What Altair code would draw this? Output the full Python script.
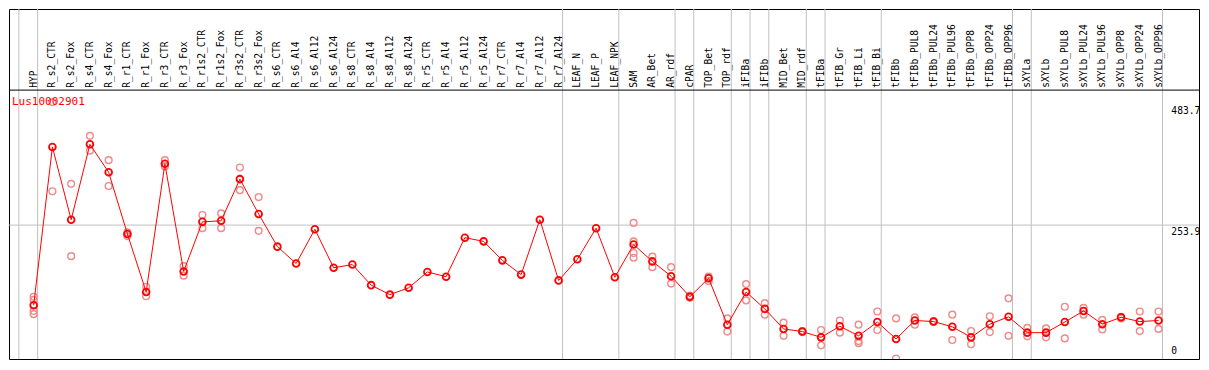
import altair as alt
import pandas as pd

# ---------------- data ----------------
gene = "Lus10002901"

categories = [
    "HYP", "R_s2_CTR", "R_s2_Fox", "R_s4_CTR", "R_s4_Fox", "R_r1_CTR", "R_r1_Fox",
    "R_r3_CTR", "R_r3_Fox", "R_r1s2_CTR", "R_r1s2_Fox", "R_r3s2_CTR", "R_r3s2_Fox",
    "R_s6_CTR", "R_s6_Al4", "R_s6_Al12", "R_s6_Al24", "R_s8_CTR", "R_s8_Al4",
    "R_s8_Al12", "R_s8_Al24", "R_r5_CTR", "R_r5_Al4", "R_r5_Al12", "R_r5_Al24",
    "R_r7_CTR", "R_r7_Al4", "R_r7_Al12", "R_r7_Al24", "LEAF_N", "LEAF_P", "LEAF_NPK",
    "SAM", "AR_Bet", "AR_rdf", "cPAR", "TOP_Bet", "TOP_rdf", "iFIBa", "iFIBb",
    "MID_Bet", "MID_rdf", "tFIBa", "tFIB_Gr", "tFIB_Li", "tFIB_Bi", "tFIBb",
    "tFIBb_PUL8", "tFIBb_PUL24", "tFIBb_PUL96", "tFIBb_OPP8", "tFIBb_OPP24",
    "tFIBb_OPP96", "sXYLa", "sXYLb", "sXYLb_PUL8", "sXYLb_PUL24", "sXYLb_PUL96",
    "sXYLb_OPP8", "sXYLb_OPP24", "sXYLb_OPP96",
]

mean_values = [
    102, 402, 264, 407, 354, 237, 127, 370, 166, 260, 262, 341, 275,
    213, 181, 246, 173, 179, 140, 122, 135, 165, 156, 230, 223,
    187, 160, 264, 149, 189, 248, 155,
    217, 185, 157, 118, 153, 65, 127, 95, 57, 52, 41, 62, 44, 70, 38,
    73, 71, 61, 41, 66, 80, 50, 50, 70, 91, 66, 79, 71, 73,
]

replicates = [
    [118, 112, 91, 85], [487, 318], [332, 195], [423, 395], [377, 328],
    [240, 233], [137, 119], [377, 365], [176, 158], [273, 248], [276, 248],
    [363, 320], [307, 243],
    [], [], [], [], [], [], [], [], [], [], [], [], [], [], [], [], [], [], [],
    [258, 223, 201, 192], [194, 174], [174, 143], [120, 116], [156, 148],
    [77, 52], [142, 111], [106, 84], [69, 44], [53, 51], [55, 26], [73, 50],
    [65, 34, 30], [90, 55], [77, 1], [79, 65], [72, 70], [84, 36], [53, 28],
    [81, 51], [115, 44], [59, 43], [58, 41], [99, 39], [97, 84], [74, 56],
    [80, 77], [90, 53], [90, 57],
]

# group separators: index of the last category of each group
group_ends = [-1, 0, 28, 31, 34, 35, 37, 38, 39, 41, 42, 45, 52, 53, 60]

axis_values = [483.7, 253.9]
axis_labels = ["483.7", "253.9"]
zero_label = "0"

# ---------------- layout ----------------
W, H = 1190, 350
REF_W, REF_H = 1206, 369
sx, sy = W / REF_W, H / REF_H
STEP = 19.0
FIRST = 25.0

x_scale = alt.Scale(domain=[-FIRST / STEP, (REF_W - FIRST) / STEP], nice=False, zero=False)
y_scale = alt.Scale(domain=[0, 483.7 * REF_H / 269.0], nice=False, zero=False)

MONO = "DejaVu Sans Mono"
GRID = "#c0c0c0"

means_df = pd.DataFrame({"idx": list(range(len(categories))), "cat": categories, "value": mean_values})
rep_rows = []
for i, reps in enumerate(replicates):
    for v in reps:
        rep_rows.append({"idx": i, "value": v})
reps_df = pd.DataFrame(rep_rows)
sep_df = pd.DataFrame({"pos": [k + 4.0 / STEP for k in group_ends]})
axis_df = pd.DataFrame({"value": axis_values, "label": axis_labels})
zero_df = pd.DataFrame({"value": [0], "label": [zero_label]})
title_df = pd.DataFrame({"label": [gene]})

X = lambda f: alt.X(f, type="quantitative", scale=x_scale, axis=None)
Y = lambda f: alt.Y(f, type="quantitative", scale=y_scale, axis=None)

vlines = alt.Chart(sep_df).mark_rule(color=GRID, strokeWidth=1).encode(
    x=X("pos"), y=alt.value(0), y2=alt.value(H)
)
hline = alt.Chart(axis_df.iloc[[1]]).mark_rule(color=GRID, strokeWidth=1).encode(
    y=Y("value"), x=alt.value(0), x2=alt.value(W)
)
header_line = alt.Chart(title_df).mark_rule(color="black", strokeWidth=1).encode(
    y=alt.value(85.5 * sy), x=alt.value(0), x2=alt.value(W)
)
rep_pts = alt.Chart(reps_df).mark_point(
    shape="circle", filled=False, size=46, strokeWidth=1.4, color="#ee8c8c", opacity=1, clip=True
).encode(x=X("idx"), y=Y("value"))
line = alt.Chart(means_df).mark_line(color="#ff0000", strokeWidth=1).encode(
    x=X("idx"), y=Y("value")
)
mean_pts = alt.Chart(means_df).mark_point(
    shape="circle", filled=False, size=46, strokeWidth=1.8, color="#ff0000", opacity=1
).encode(x=X("idx"), y=Y("value"))
cat_labels = alt.Chart(means_df).mark_text(
    angle=270, align="left", baseline="middle", font=MONO, fontSize=9.6, color="black"
).encode(x=X("idx"), y=alt.value(83 * sy), text="cat:N")
title = alt.Chart(title_df).mark_text(
    align="left", baseline="top", font=MONO, fontSize=11, color="#ff0000"
).encode(x=alt.value(3 * sx), y=alt.value(92 * sy), text="label:N")
ax_labels = alt.Chart(axis_df).mark_text(
    align="left", baseline="top", font=MONO, fontSize=9.6, color="black", dy=2
).encode(x=alt.value(1178 * sx), y=Y("value"), text="label:N")
zero_text = alt.Chart(zero_df).mark_text(
    align="left", baseline="bottom", font=MONO, fontSize=9.6, color="black", dy=-3
).encode(x=alt.value(1178 * sx), y=Y("value"), text="label:N")

chart = alt.layer(
    vlines, hline, header_line, rep_pts, line, mean_pts, cat_labels, title, ax_labels, zero_text
).properties(
    width=W, height=H, padding=1, autosize=alt.AutoSizeParams(type="none"),
    background="white",
).configure_view(stroke="black", strokeWidth=1)

chart.save("out.html", embed_options={"renderer": "svg", "actions": False})
